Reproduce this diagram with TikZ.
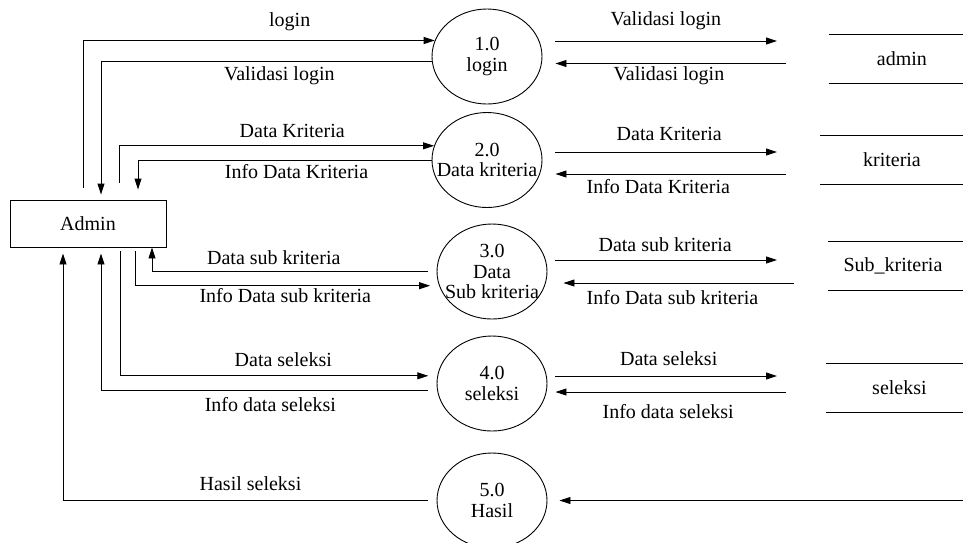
\documentclass[tikz,border=0pt]{standalone}
\usepackage{fontspec}
\setmainfont{Liberation Serif}
\usetikzlibrary{shapes.geometric,arrows.meta}

\tikzset{
  proc/.style={draw, ellipse, minimum width=110pt, minimum height=95pt, inner sep=0pt},
  entity/.style={draw, rectangle, minimum width=156pt, minimum height=47pt, inner sep=0pt},
  store/.style={anchor=west, minimum height=48pt, inner sep=0pt},
  flow/.style={-{Triangle[length=11pt,width=7pt]}},
  lbl/.style={anchor=base, inner sep=0pt},
  every label/.style={align=center, inner sep=0pt}
}

\begin{document}
\begin{tikzpicture}[x=1pt, y=-1pt, line width=0.9pt, font=\fontsize{20pt}{20.5pt}\selectfont]
  \useasboundingbox (0,0) rectangle (963,542);
  \clip (0,0) rectangle (963,542);

  \node[entity] (admin) at (88,223.5) {Admin};

  \node[proc, label=center:{1.0\\login}] (p1) at (487,56.5) {};
  \node[proc, label=center:{2.0\\Data kriteria}] (p2) at (487,160) {};
  \node[proc, label=center:{3.0\\Data\\Sub kriteria}] (p3) at (492,271.5) {};
  \node[proc, label=center:{4.0\\seleksi}] (p4) at (492,383.5) {};
  \node[proc, label=center:{5.0\\Hasil}] (p5) at (492,500.5) {};

  \node[store, minimum width=146pt] (s1) at (828.5,59) {admin};
  \node[store, minimum width=143pt] (s2) at (820,159.5) {kriteria};
  \node[store, minimum width=129pt] (s3) at (828,265.5) {Sub\_kriteria};
  \node[store, minimum width=146pt] (s4) at (826,388) {seleksi};
  \draw (s1.north west) -- ++(150,0) (s1.south west) -- ++(150,0);
  \draw (s2.north west) -- ++(150,0) (s2.south west) -- ++(150,0);
  \draw (s3.north west) -- ++(150,0) (s3.south west) -- ++(150,0);
  \draw (s4.north west) -- ++(150,0) (s4.south west) -- ++(150,0);
  \coordinate (hsrc) at (975,500.5);

  \draw[flow, shorten <=12pt] ([xshift=-5pt]admin.north) |- (p1.163.4);
  \draw[flow, shorten >=5pt] (p1.185.8) -| ([xshift=13pt]admin.north);
  \draw[flow, shorten <=17pt] ([xshift=31pt]admin.north) |- (p2.165.1);
  \draw[flow, shorten >=10pt] (p2.west) -| ([xshift=50pt]admin.north);
  \draw[flow, shorten <=9pt] (p3.west) -| ([xshift=64pt]admin.south);
  \draw[flow, shorten <=4pt, shorten >=9pt] ([xshift=47pt]admin.south) |- (p3.195.5);
  \draw[flow, shorten <=4pt, shorten >=9pt] ([xshift=32pt]admin.south) |- (p4.172.1);
  \draw[flow, shorten <=9pt, shorten >=6pt] (p4.187.9) -| ([xshift=13pt]admin.south);
  \draw[flow, shorten <=9pt, shorten >=6pt] (p5.west) -| ([xshift=-25pt]admin.south);

  \draw[flow, shorten <=13pt, shorten >=51.5pt] ([yshift=15.5pt]p1.east) -- ([yshift=15.5pt]p1.east -| s1.west);
  \draw[flow, shorten <=42.5pt, shorten >=13pt] ([yshift=-7pt]p1.east -| s1.west) -- ([yshift=-7pt]p1.east);
  \draw[flow, shorten <=13pt, shorten >=43pt] ([yshift=8pt]p2.east) -- ([yshift=8pt]p2.east -| s2.west);
  \draw[flow, shorten <=34pt, shorten >=13pt] ([yshift=-14pt]p2.east -| s2.west) -- ([yshift=-14pt]p2.east);
  \draw[flow, shorten <=8pt, shorten >=51pt] ([yshift=11.5pt]p3.east) -- ([yshift=11.5pt]p3.east -| s3.west);
  \draw[flow, shorten <=34pt, shorten >=16pt] ([yshift=-11.5pt]p3.east -| s3.west) -- ([yshift=-11.5pt]p3.east);
  \draw[flow, shorten <=8pt, shorten >=49pt] ([yshift=7.5pt]p4.east) -- ([yshift=7.5pt]p4.east -| s4.west);
  \draw[flow, shorten <=40pt, shorten >=8pt] ([yshift=-8.5pt]p4.east -| s4.west) -- ([yshift=-8.5pt]p4.east);
  \draw[flow, shorten >=12pt] (hsrc) -- (p5.east);

  \node[lbl] (l1) at (289.7,26) {login};
  \node[lbl] (l2) at (279.3,80) {Validasi login};
  \node[lbl] (l3) at (292.2,137.7) {Data Kriteria};
  \node[lbl] (l4) at (296.5,178.3) {Info Data Kriteria};
  \node[lbl] (l5) at (273.8,264) {Data sub kriteria};
  \node[lbl] (l6) at (285.3,302.7) {Info Data sub kriteria};
  \node[lbl] (l7) at (283.3,366) {Data seleksi};
  \node[lbl] (l8) at (270.3,411.7) {Info data seleksi};
  \node[lbl] (l9) at (250.5,490) {Hasil seleksi};

  \node[lbl] (r1) at (665.8,25) {Validasi login};
  \node[lbl] (r2) at (669,80.7) {Validasi login};
  \node[lbl] (r3) at (669.2,140.7) {Data Kriteria};
  \node[lbl] (r4) at (658.3,193.3) {Info Data Kriteria};
  \node[lbl] (r5) at (665.2,251) {Data sub kriteria};
  \node[lbl] (r6) at (672.5,304) {Info Data sub kriteria};
  \node[lbl] (r7) at (668.7,365.7) {Data seleksi};
  \node[lbl] (r8) at (668.2,418.3) {Info data seleksi};
\end{tikzpicture}
\end{document}
